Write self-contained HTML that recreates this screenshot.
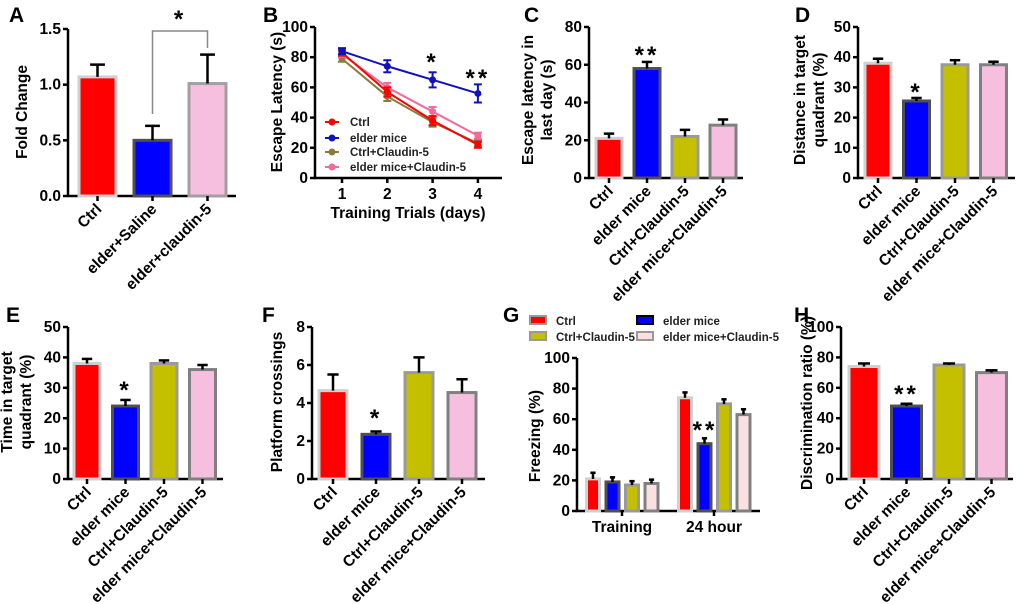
<!DOCTYPE html>
<html><head><meta charset="utf-8"><style>
body{margin:0;background:#fff}
svg{display:block;font-family:"Liberation Sans",Arial,sans-serif;font-weight:bold}
</style></head><body>
<svg id="fig" width="1020" height="604" viewBox="0 0 1020 604" xmlns="http://www.w3.org/2000/svg"></svg>
<script>
const groups4 = ["Ctrl","elder mice","Ctrl+Claudin-5","elder mice+Claudin-5"];
const groupsA = ["Ctrl","elder+Saline","elder+claudin-5"];
const valsA = [1.07,0.50,1.01];
const errA = [0.11,0.13,0.26];
const daysB = [1,2,3,4];
const ctrlB = [83,57,38,22];
const elderB = [84,74,65,56];
const ctrlClB = [79,54,37,23];
const elderClB = [82,60,44,28];
const errB1 = [2,3,3,2];
const errB2 = [2,4,5,6];
const valsC = [21,58,22,28];
const errC = [2.5,3.5,3.5,3];
const valsD = [38,25.5,37.5,37.5];
const errD = [1.5,1,1.5,1];
const valsE = [38,24,38,36];
const errE = [1.5,2,1,1.5];
const valsF = [4.65,2.35,5.6,4.55];
const errF = [0.85,0.15,0.8,0.7];
const phasesG = ["Training","24 hour"];
const trainG = [21,19,17,18];
const hourG = [74,44,70,63];
const errTrainG = [4,3,2.5,2.5];
const errHourG = [3.5,3.5,3,3.5];
const valsH = [74,48,75,70];
const errH = [2,1.5,1,1.5];

const NS="http://www.w3.org/2000/svg";
const svg=document.getElementById('fig');
function mk(tag,attrs,parent,text){const e=document.createElementNS(NS,tag);for(const k in attrs)e.setAttribute(k,attrs[k]);if(text!==undefined)e.textContent=text;(parent||svg).appendChild(e);return e;}
const fills=["#ff0000","#0000ff","#c4c000","#f7bfdf"];
const strokes=["#d0d0d0","#505050","#9a9a9a","#808080"];

function axes(g,x0,x1,yTop,yBot,max,step,fmt){
  const ys=v=>yBot-(v/max)*(yBot-yTop);
  let l=mk('line',{x1:x0,y1:yTop,x2:x0,y2:yBot,stroke:'#000','stroke-width':2.5},g);
  
  
  l=mk('line',{x1:x0-1,y1:yBot,x2:x1,y2:yBot,stroke:'#000','stroke-width':2.5},g);
  
  
  for(let v=0;v<=max+1e-9;v+=step){
    const y=ys(v);
    mk('line',{x1:x0-5,y1:y,x2:x0,y2:y,stroke:'#000','stroke-width':2.5},g);
    const t=mk('text',{x:x0-7,y:y+5,'text-anchor':'end','font-size':15.5},g,fmt(v));
    
    
  }
  return ys;
}
function ytitle(g,x,y,lines){
  lines.forEach((s,i)=>{
    const t=mk('text',{x:0,y:0,'text-anchor':'middle','font-size':15.5,transform:`translate(${x+i*19},${y}) rotate(-90)`},g,s);
    
    
  });
}
function panelLetter(x,y,s){
  const t=mk('text',{x:x,y:y,'font-size':21},svg,s);
  
  
}
function bar(g,xc,w,yBot,ys,v,e,i,name){
  const y=ys(v);
  const r=mk('rect',{x:xc-w/2,y:y,width:w,height:yBot-y,fill:fills[i],stroke:strokes[i],'stroke-width':3},g);
  
  
  const ye=ys(v+e);
  mk('line',{x1:xc,y1:y,x2:xc,y2:ye,stroke:'#000','stroke-width':2.5},g);
  mk('line',{x1:xc-w*0.2,y1:ye,x2:xc+w*0.2,y2:ye,stroke:'#000','stroke-width':2.5},g);
}
function rotLabels(g,centers,labels,yBot){
  centers.forEach((xc,i)=>{
    mk('line',{x1:xc,y1:yBot,x2:xc,y2:yBot+5,stroke:'#000','stroke-width':2.5},g);
    const t=mk('text',{x:0,y:0,'text-anchor':'end','font-size':15.5,transform:`translate(${xc+5},${yBot+14}) rotate(-45)`},g,labels[i]);
    
    
  });
}
function star(g,x,y,s){const t=mk('text',{x:x,y:y,'text-anchor':'middle','font-size':24,'letter-spacing':3},g,s);}

function barPanel(name,x0,x1,yTop,yBot,max,step,fmt,firstX,spacing,w,vals,errs,labels){
  const g=mk('g',{});
  const ys=axes(g,x0,x1,yTop,yBot,max,step,fmt);
  const cs=[];
  vals.forEach((v,i)=>{const xc=firstX+i*spacing;cs.push(xc);bar(g,xc,w,yBot,ys,v,errs[i],labels===groupsA?[0,1,3][i]:i,'bar-'+labels[i].toLowerCase().replace(/[^a-z0-9]+/g,'-'));});
  rotLabels(g,cs,labels,yBot);
  return {g,ys,cs};
}

// A
panelLetter(9,22,"A");
let A=barPanel('panel-a-chart',68,236,29,196,1.5,0.5,v=>v.toFixed(1),97.5,55,37,valsA,errA,groupsA);
A.g.querySelectorAll('rect')[2].setAttribute('stroke','#a0a0a0');
ytitle(A.g,27,112,["Fold Change"]);
mk('polyline',{points:`${A.cs[1]},114 ${A.cs[1]},31 ${A.cs[2]},31 ${A.cs[2]},48`,fill:'none',stroke:'#888','stroke-width':1.5},A.g);
star(A.g,(A.cs[1]+A.cs[2])/2,27,"*");

// B
panelLetter(263,22,"B");
(function(){
  const g=mk('g',{});
  const ys=axes(g,315,502,27,178,100,20,v=>String(v));
  const xs=d=>342+(d-1)*45.3;
  daysB.forEach(d=>{mk('line',{x1:xs(d),y1:178,x2:xs(d),y2:183,stroke:'#000','stroke-width':2.5},g);
    const t=mk('text',{x:xs(d),y:199,'text-anchor':'middle','font-size':15.5},g,String(d));
    
    });
  const xt=mk('text',{x:408,y:218,'text-anchor':'middle','font-size':15.5},g,"Training Trials (days)");
  
  
  ytitle(g,282,102,["Escape Latency (s)"]);
  const series=[[ctrlClB,"#8b7a3a",errB1,"Ctrl+Claudin-5"],[elderClB,"#f06a9a",errB1,"elder mice+Claudin-5"],[ctrlB,"#ff0000",errB1,"Ctrl"],[elderB,"#1010c0",errB2,"elder mice"]];
  series.forEach(([vals,col,err,nm])=>{
    const pts=vals.map((v,i)=>`${xs(daysB[i])},${ys(v)}`).join(' ');
    const pl=mk('polyline',{points:pts,fill:'none',stroke:col,'stroke-width':2},g);
    
    
    vals.forEach((v,i)=>{const x=xs(daysB[i]);
      mk('line',{x1:x,y1:ys(v+err[i]),x2:x,y2:ys(v-err[i]),stroke:col,'stroke-width':2},g);
      mk('line',{x1:x-4,y1:ys(v+err[i]),x2:x+4,y2:ys(v+err[i]),stroke:col,'stroke-width':2},g);
      mk('line',{x1:x-4,y1:ys(v-err[i]),x2:x+4,y2:ys(v-err[i]),stroke:col,'stroke-width':2},g);
      const c=mk('circle',{cx:x,cy:ys(v),r:3.5,fill:col},g);
      
      });
  });
  const leg=[["Ctrl","#ff0000"],["elder mice","#1010c0"],["Ctrl+Claudin-5","#8b7a3a"],["elder mice+Claudin-5","#f06a9a"]];
  [122,138,152,167].forEach((y,i)=>{
    const lg=mk('g',{},g);
    mk('line',{x1:325,y1:y,x2:339,y2:y,stroke:leg[i][1],'stroke-width':2},lg);
    mk('circle',{cx:332,cy:y,r:3.5,fill:leg[i][1]},lg);
    mk('text',{x:350,y:y+4,'font-size':11.5,fill:'#222'},lg,leg[i][0]);
  });
  star(g,xs(3),70,"*");star(g,xs(4),86,"**");
})();

// C
panelLetter(524,22,"C");
let C=barPanel('panel-c-chart',589,743,27,178,80,20,v=>String(v),609,38,26,valsC,errC,groups4);
ytitle(C.g,533,100,["Escape latency in","last day (s)"]);
star(C.g,C.cs[1],63,"**");

// D
panelLetter(795,22,"D");
let D=barPanel('panel-d-chart',858,1015,27,178,50,10,v=>String(v),878,38.5,26,valsD,errD,groups4);
ytitle(D.g,805,100,["Distance in target","quadrant (%)"]);
star(D.g,D.cs[1],100,"*");

// E
panelLetter(6,322,"E");
let E=barPanel('panel-e-chart',68,223,327,479,50,10,v=>String(v),87,38.5,26,valsE,errE,groups4);
ytitle(E.g,12,402,["Time in target","quadrant (%)"]);
star(E.g,E.cs[1],398,"*");

// F
panelLetter(262,322,"F");
let F=barPanel('panel-f-chart',312,485,327,479,8,2,v=>String(v),333,43,28,valsF,errF,groups4);
ytitle(F.g,282,402,["Platform crossings"]);
star(F.g,F.cs[1],426,"*");

// G
panelLetter(503,322,"G");
(function(){
  const g=mk('g',{});
  const ys=axes(g,577,760,358,511,100,20,v=>String(v));
  const starts=[593,685];
  [trainG,hourG].forEach((vals,p)=>{
    const errs=p?errHourG:errTrainG;
    vals.forEach((v,i)=>{bar(g,starts[p]+i*19.5,13,511,ys,v,errs[i],i,'bar-'+phasesG[p].replace(' ','-').toLowerCase()+'-'+i);});
    const cx=starts[p]+29;
    mk('line',{x1:cx,y1:511,x2:cx,y2:516,stroke:'#000','stroke-width':2.5},g);
    const t=mk('text',{x:cx,y:532,'text-anchor':'middle','font-size':15.5},g,phasesG[p]);
    
    
  });
  g.querySelectorAll('rect')[7].setAttribute('fill','#fae0e0');
  g.querySelectorAll('rect')[3].setAttribute('fill','#fae0e0');
  ytitle(g,540,436,["Freezing (%)"]);
  star(g,705,438,"**");
  const leg=[["Ctrl",530,321,0],["elder mice",637,321,1],["Ctrl+Claudin-5",530,337,2],["elder mice+Claudin-5",637,337,3]];
  leg.forEach(([s,x,y,i])=>{
    const lg=mk('g',{},g);
    mk('rect',{x:x,y:y-5,width:16,height:8,fill:i==3?'#fae0e0':fills[i],stroke:i==1?'#000':'#999','stroke-width':2},lg);
    mk('text',{x:x+26,y:y+4,'font-size':11.5,fill:'#222'},lg,s);
  });
})();

// H
panelLetter(794,322,"H");
let H=barPanel('panel-h-chart',841,1013,327,479,100,20,v=>String(v),864,42.5,30,valsH,errH,groups4);
ytitle(H.g,812,403,["Discrimination ratio (%)"]);
star(H.g,H.cs[1],402,"**");
</script>
</body></html>
